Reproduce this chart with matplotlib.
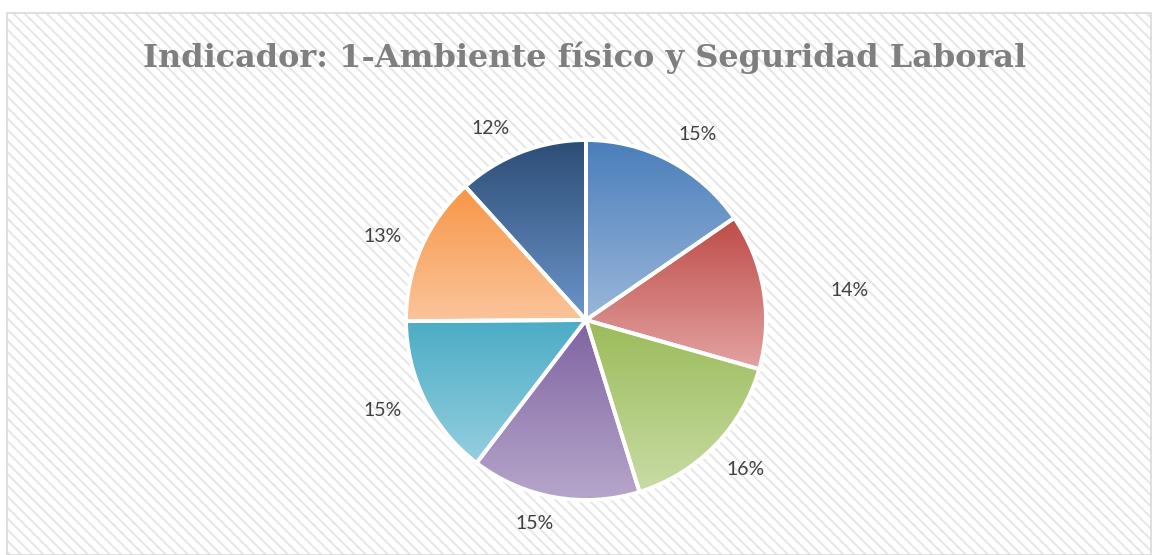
import numpy as np
import matplotlib
matplotlib.use("Agg")
import matplotlib.pyplot as plt
from matplotlib.patches import Rectangle
from matplotlib.colors import LinearSegmentedColormap

# slice values (percent), clockwise from 12 o'clock
values = [15.4, 14.0, 15.8, 15.2, 14.5, 13.4, 11.7]
labels = ["15%", "14%", "16%", "15%", "15%", "13%", "12%"]
# gradient: top colour, bottom colour
top_colors = ["#4a7ebb", "#be4b48", "#9bbb59", "#7f63a1", "#4bacc6", "#f79646", "#2c4d75"]
bottom_colors = ["#9ab7da", "#e3a3a1", "#c8dca5", "#b6a6cb", "#95cfdf", "#fbc49b", "#6c95cb"]
title = "Indicador: 1-Ambiente físico y Seguridad Laboral"

W, H = 1155, 555
fig = plt.figure(figsize=(W / 100, H / 100), dpi=100)
fig.patch.set_facecolor("white")

# chart area: hatched background + border
plt.rcParams["hatch.linewidth"] = 1.4
bg = Rectangle((7 / W, 0), 1144 / W, (H - 13) / H, transform=fig.transFigure,
               facecolor="white", edgecolor="#e6e6e6", hatch="\\\\\\", linewidth=0,
               zorder=-3)
fig.patches.append(bg)
border = Rectangle((7 / W, 0), 1144 / W, (H - 13) / H, transform=fig.transFigure,
                   facecolor="none", edgecolor="#d9d9d9", linewidth=1.2, zorder=-2)
fig.patches.append(border)

ax = fig.add_axes([0, 0, 1, 1])
ax.set_zorder(1)
ax.patch.set_alpha(0)
cx, cy, r = 586, H - 320, 180

wedges, _ = ax.pie(values, startangle=90, counterclock=False, radius=r, center=(cx, cy),
                   colors=["none"] * len(values),
                   wedgeprops=dict(edgecolor="white", linewidth=2.8))

grad = np.linspace(0, 1, 256).reshape(-1, 1)
for w, c0, c1 in zip(wedges, top_colors, bottom_colors):
    w.set_zorder(3)
    ext = w.get_path().get_extents()
    cmap = LinearSegmentedColormap.from_list("g", [c0, c1])
    im = ax.imshow(grad, cmap=cmap, aspect="auto", origin="upper",
                   extent=(ext.x0, ext.x1, ext.y0, ext.y1), zorder=2,
                   interpolation="bilinear")
    im.set_clip_path(w)

# label placement (layout only): distance factor and angle shift from wedge middle
label_dist = [1.2, 1.475, 1.215, 1.165, 1.235, 1.22, 1.19]
label_shift = [-3.3, -2.9, 1.0, -4.0, -2.4, 1.3, 5.5]
for w, lab, d, s in zip(wedges, labels, label_dist, label_shift):
    ang = np.deg2rad((w.theta1 + w.theta2) / 2 + s)
    ax.text(cx + d * r * np.cos(ang), cy + d * r * np.sin(ang), lab,
            ha="center", va="center", fontsize=14, color="#404040",
            family="Lato", zorder=4)

ax.set_xlim(0, W)
ax.set_ylim(0, H)
ax.set_aspect("auto")
ax.axis("off")

fig.text(585 / W, 1 - 58 / H, title, ha="center", va="center",
         fontsize=23, fontweight="bold", color="#7f7f7f", family="DejaVu Serif")

fig.savefig("out.png", dpi=100)
